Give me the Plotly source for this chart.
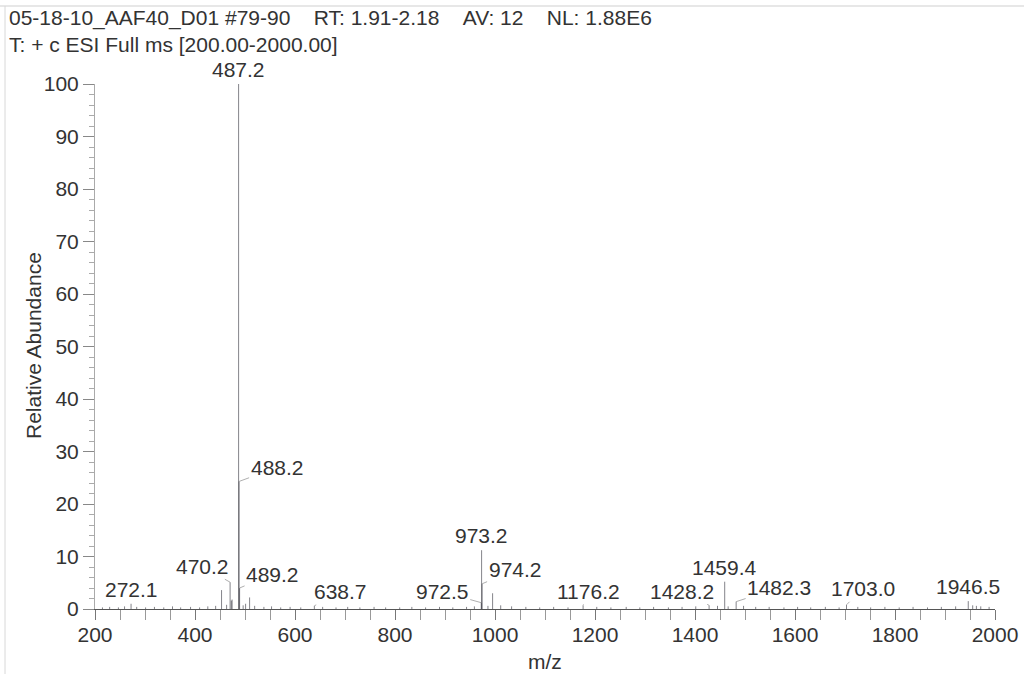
import plotly.graph_objects as go

# ---- spectrum data (m/z, relative abundance %) ----
labeled_mz = [272.1, 470.2, 487.2, 488.2, 489.2, 638.7, 972.5, 973.2, 974.2,
              1176.2, 1428.2, 1459.4, 1482.3, 1703.0, 1946.5]
labeled_ab = [1.0, 5.1, 100.0, 24.3, 4.0, 0.6, 1.2, 11.2, 4.8,
              0.7, 0.7, 5.2, 1.4, 0.8, 1.5]

minor_mz = [214.9, 229.3, 246.8, 259.1, 283.4, 301.2, 318.9, 337.5, 355.0, 371.3,
            391.1, 409.2, 425.6, 441.3, 453.1, 463.2, 472.6, 474.2, 496.3, 501.2,
            509.2, 519.3, 537.8, 553.1, 571.4, 590.2, 611.5, 655.3, 682.0, 705.4,
            729.8, 758.1, 781.3, 809.4, 833.7, 861.2, 889.0, 915.6, 943.1, 958.8,
            985.9, 995.2, 1011.4, 1033.2, 1061.7, 1089.4, 1117.3, 1146.0, 1203.5, 1231.8,
            1262.4, 1289.6, 1317.2, 1346.8, 1374.1, 1401.5, 1445.0, 1466.3, 1497.1, 1521.4,
            1548.3, 1577.9, 1605.2, 1631.4, 1660.7, 1688.2, 1725.6, 1751.3, 1779.8, 1808.4,
            1836.1, 1865.0, 1892.7, 1921.3, 1955.4, 1962.8, 1971.5, 1988.2]
minor_ab = [0.3, 0.4, 0.3, 0.5, 0.4, 0.3, 0.4, 0.3, 0.5, 0.3,
            0.4, 0.3, 0.5, 0.6, 3.6, 0.8, 1.6, 1.8, 0.7, 1.0,
            2.2, 0.6, 0.4, 0.5, 0.3, 0.4, 0.3, 0.4, 0.3, 0.4,
            0.3, 0.4, 0.3, 0.3, 0.4, 0.3, 0.4, 0.3, 0.4, 0.5,
            0.6, 3.0, 0.7, 0.5, 0.4, 0.3, 0.4, 0.3, 0.4, 0.3,
            0.4, 0.3, 0.4, 0.3, 0.4, 0.5, 0.6, 0.5, 0.6, 0.4,
            0.4, 0.3, 0.4, 0.3, 0.4, 0.3, 0.4, 0.3, 0.4, 0.3,
            0.4, 0.3, 0.4, 0.5, 0.7, 0.6, 0.5, 0.4]

# label placement: text offset (px) from the peak top; None = straight above
label_offsets = {
    272.1: None, 470.2: (-28, -16), 487.2: None, 488.2: (38, -14),
    489.2: (33, -14), 638.7: (26, -14), 972.5: (-39, -11), 973.2: None,
    974.2: (33, -14), 1176.2: (5, -14), 1428.2: (-27, -14), 1459.4: None,
    1482.3: (43, -14), 1703.0: (16, -16), 1946.5: None,
}

header_1 = "05-18-10_AAF40_D01 #79-90    RT: 1.91-2.18    AV: 12    NL: 1.88E6"
header_2 = "T: + c ESI Full ms [200.00-2000.00]"
y_title = "Relative Abundance"
x_title = "m/z"

FONT = "Liberation Sans, Arial, sans-serif"
TXT = "#333333"
W, H = 1024, 674
ML, MR, MT, MB = 95, 29, 84, 65
PW, PH = W - ML - MR, H - MT - MB


def sticks(mz, ab):
    xs, ys = [], []
    for m, a in zip(mz, ab):
        xs += [m, m, None]
        ys += [0, a, None]
    return xs, ys


all_mz = labeled_mz + minor_mz
all_ab = labeled_ab + minor_ab
sx, sy = sticks(all_mz, all_ab)

fig = go.Figure()
fig.add_trace(go.Scatter(
    x=sx, y=sy, mode="lines",
    line=dict(color="rgba(50,50,60,0.6)", width=1),
    hoverinfo="skip", showlegend=False,
))

annotations = []
for m, a in zip(labeled_mz, labeled_ab):
    off = label_offsets[m]
    text = f"{m:.1f}"
    if off is None:
        annotations.append(dict(
            x=m, y=a, xref="x", yref="y", text=text, showarrow=False,
            yanchor="bottom", xanchor="center", yshift=1,
            font=dict(family=FONT, size=21, color=TXT),
        ))
    else:
        annotations.append(dict(
            x=m, y=a, xref="x", yref="y", text=text, showarrow=True,
            ax=off[0], ay=off[1], arrowhead=0, arrowwidth=0.8,
            arrowcolor="#999999", standoff=0, startstandoff=0,
            font=dict(family=FONT, size=21, color=TXT),
        ))


def px_to_paper_x(px):
    return (px - ML) / PW


def px_to_paper_y(py):
    return (H - MB - py) / PH


for txt, ypix in [(header_1, 18), (header_2, 44)]:
    annotations.append(dict(
        x=px_to_paper_x(7), y=px_to_paper_y(ypix), xref="paper", yref="paper",
        text=txt.replace(" ", "\u00a0"), showarrow=False,
        xanchor="left", yanchor="middle",
        font=dict(family=FONT, size=21, color=TXT),
    ))

# axis titles
annotations.append(dict(
    x=px_to_paper_x(33), y=px_to_paper_y(346), xref="paper", yref="paper",
    text=y_title, textangle=-90, showarrow=False,
    xanchor="center", yanchor="middle",
    font=dict(family=FONT, size=21, color=TXT),
))
annotations.append(dict(
    x=0.5, y=px_to_paper_y(661), xref="paper", yref="paper",
    text=x_title, showarrow=False, xanchor="center", yanchor="middle",
    font=dict(family=FONT, size=21, color=TXT),
))

shapes = [
    dict(type="line", xref="paper", yref="paper",
         x0=px_to_paper_x(0), x1=px_to_paper_x(W), y0=px_to_paper_y(6), y1=px_to_paper_y(6),
         line=dict(color="#cfcfcf", width=1)),
    dict(type="line", xref="paper", yref="paper",
         x0=px_to_paper_x(5), x1=px_to_paper_x(5), y0=px_to_paper_y(6), y1=px_to_paper_y(H),
         line=dict(color="#d8d8d8", width=1)),
]

fig.update_layout(
    width=W, height=H,
    margin=dict(l=ML, r=MR, t=MT, b=MB, pad=0, autoexpand=False),
    paper_bgcolor="white", plot_bgcolor="white",
    font=dict(family=FONT, size=21, color=TXT),
    annotations=annotations, shapes=shapes,
    xaxis=dict(
        range=[200, 2000], tickmode="linear", tick0=200, dtick=200,
        ticks="outside", ticklen=10, tickcolor="#777777", tickwidth=1,
        minor=dict(dtick=50, ticks="outside", ticklen=10, tickcolor="#999999"),
        showline=True, linecolor="#555555", linewidth=1,
        showgrid=False, zeroline=False, automargin=False,
        ticklabelstandoff=-3,
        tickfont=dict(family=FONT, size=21, color=TXT),
    ),
    yaxis=dict(
        range=[0, 100], tickmode="linear", tick0=0, dtick=10,
        ticks="outside", ticklen=11, tickcolor="#888888", tickwidth=1,
        minor=dict(dtick=2, ticks="outside", ticklen=5, tickcolor="#aaaaaa"),
        showline=True, linecolor="#aaaaaa", linewidth=1,
        showgrid=False, zeroline=False, automargin=False,
        tickfont=dict(family=FONT, size=21, color=TXT),
    ),
)

fig.write_html("out.html")
